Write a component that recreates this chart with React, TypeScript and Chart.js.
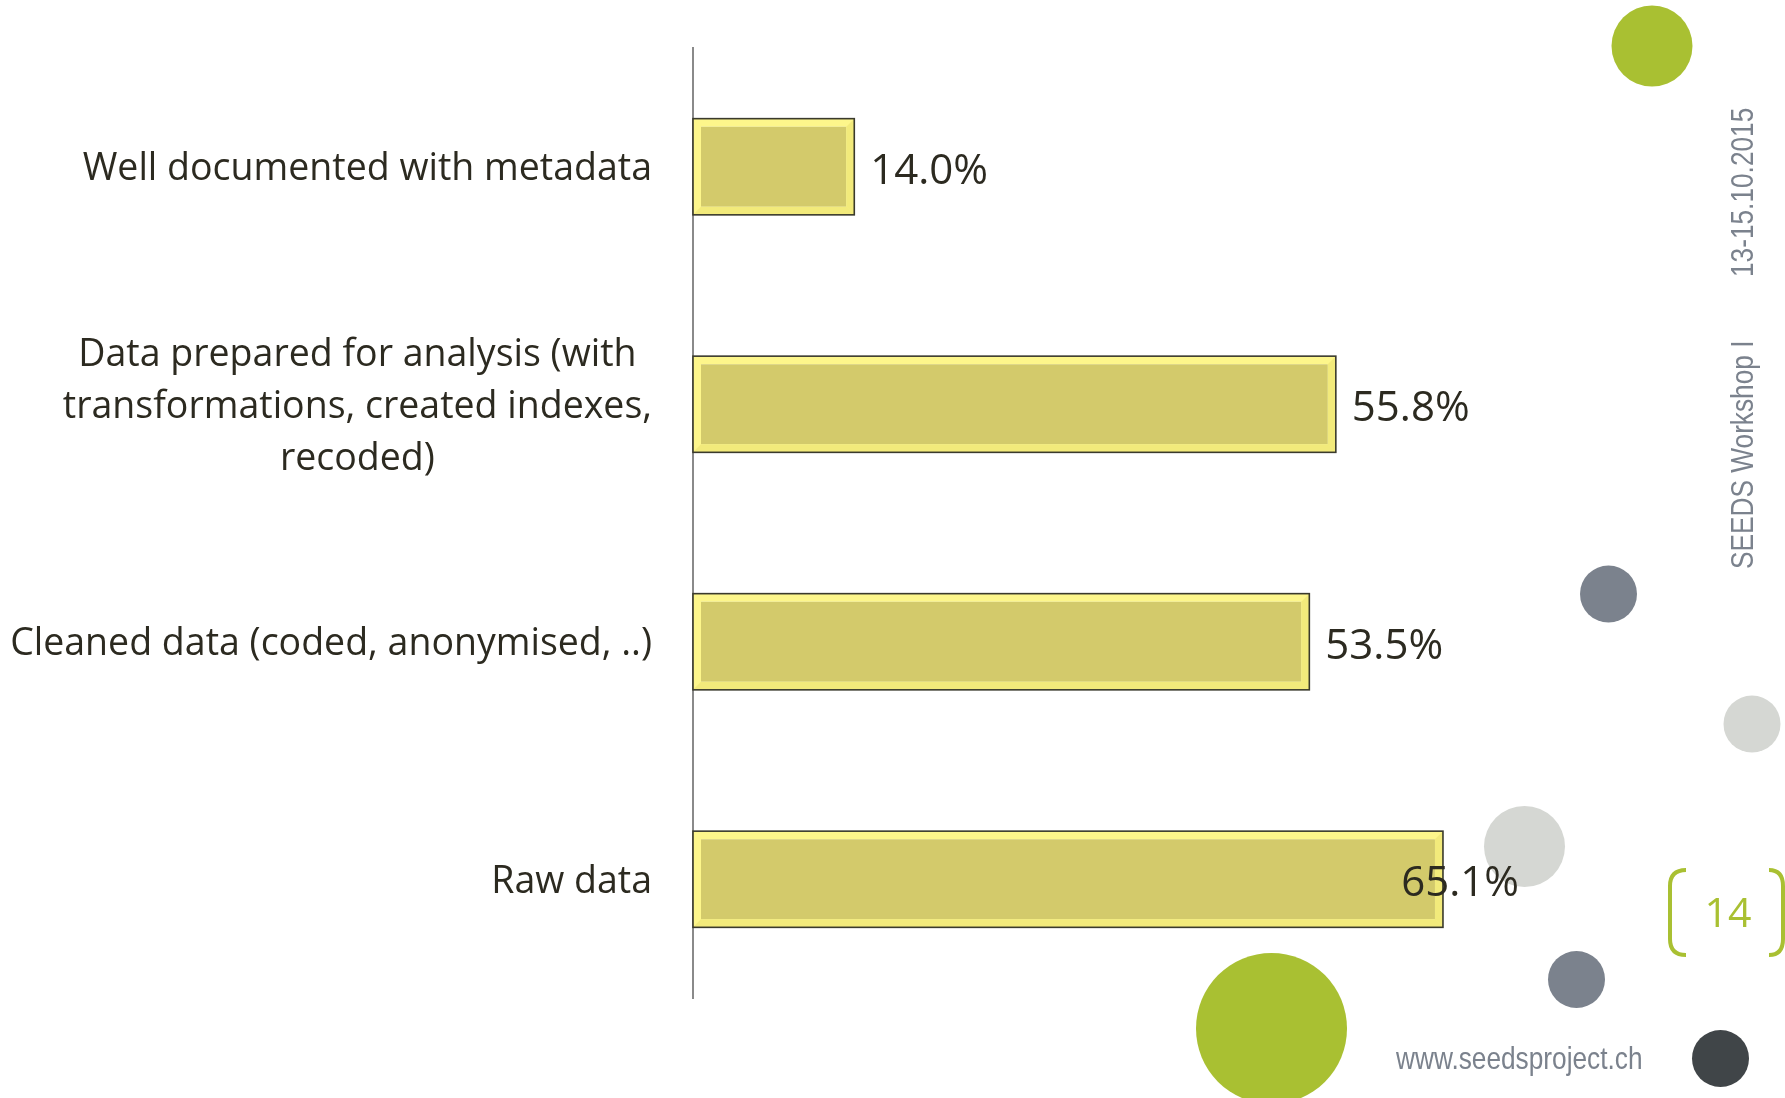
import React, { useEffect, useRef } from 'react';
import { Chart, registerables } from 'chart.js';

Chart.register(...registerables);

// ---------- data ----------
const categories: (string | string[])[] = [
  'Well documented with metadata',
  ['Data prepared for analysis (with', 'transformations, created indexes,', 'recoded)'],
  'Cleaned data (coded, anonymised, ..)',
  'Raw data',
];
const percentValues: number[] = [14.0, 55.8, 53.5, 65.1];
const axisMin = 0;
const axisMax = 71.7;

// ---------- slide texts ----------
const pageNumber = '14';
const footerUrl = 'www.seedsproject.ch';
const sideTextEvent = 'SEEDS Workshop I';
const sideTextDate = '13-15.10.2015';

// ---------- styles ----------
const W = 1785;
const H = 1098;
const TEXT = '#2c2a20';
const GREEN = '#a9c032';
const SLATE = '#7b828d';
const LIGHT = '#d5d7d3';
const DARK = '#404548';
const BAR_FILL = '#d3ca6b';
const BEVEL_LIGHT = '#fdf68b';
const BEVEL_DARK = '#f2ea7b';
const OUTLINE = '#3a3a2c';

const decoCircles = [
  { x: 1652, y: 46, r: 40.5, c: GREEN },
  { x: 1608.5, y: 594, r: 28.5, c: SLATE },
  { x: 1752, y: 724, r: 28.5, c: LIGHT },
  { x: 1524.5, y: 846.5, r: 40.5, c: LIGHT },
  { x: 1576.5, y: 979.5, r: 28.5, c: SLATE },
  { x: 1720.5, y: 1058.5, r: 28.5, c: DARK },
  { x: 1271.5, y: 1028.5, r: 75.5, c: GREEN },
];

const decorationPlugin = {
  id: 'slideDecoration',
  beforeDraw(chart: any) {
    const ctx: CanvasRenderingContext2D = chart.ctx;
    ctx.save();
    ctx.fillStyle = '#ffffff';
    ctx.fillRect(0, 0, chart.width, chart.height);
    decoCircles.forEach((c) => {
      ctx.beginPath();
      ctx.arc(c.x, c.y, c.r, 0, Math.PI * 2);
      ctx.fillStyle = c.c;
      ctx.fill();
    });
    // page number bracket
    ctx.strokeStyle = GREEN;
    ctx.lineWidth = 4;
    ctx.beginPath();
    ctx.moveTo(1686, 870);
    ctx.quadraticCurveTo(1670, 870, 1670, 886);
    ctx.lineTo(1670, 939);
    ctx.quadraticCurveTo(1670, 955, 1686, 955);
    ctx.stroke();
    ctx.beginPath();
    ctx.moveTo(1769, 870);
    ctx.quadraticCurveTo(1783, 870, 1783, 886);
    ctx.lineTo(1783, 939);
    ctx.quadraticCurveTo(1783, 955, 1769, 955);
    ctx.stroke();
    ctx.fillStyle = GREEN;
    ctx.font = '41px "Open Sans"';
    ctx.textAlign = 'center';
    ctx.textBaseline = 'middle';
    ctx.fillText(pageNumber, 1728, 915);
    // footer url
    ctx.fillStyle = SLATE;
    ctx.textAlign = 'left';
    ctx.textBaseline = 'alphabetic';
    ctx.save();
    ctx.translate(1396, 1069);
    ctx.scale(0.82, 1);
    ctx.font = '32px "Liberation Sans", Arial, sans-serif';
    ctx.fillText(footerUrl, 0, 0);
    ctx.restore();
    // vertical side texts
    ctx.save();
    ctx.translate(1753, 569);
    ctx.rotate(-Math.PI / 2);
    ctx.scale(0.82, 1);
    ctx.font = '32px "Liberation Sans", Arial, sans-serif';
    ctx.fillText(sideTextEvent, 0, 0);
    ctx.restore();
    ctx.save();
    ctx.translate(1753, 277);
    ctx.rotate(-Math.PI / 2);
    ctx.scale(0.82, 1);
    ctx.font = '32px "Liberation Sans", Arial, sans-serif';
    ctx.fillText(sideTextDate, 0, 0);
    ctx.restore();
    ctx.restore();
  },
};

const barDecorPlugin = {
  id: 'barDecor',
  afterDatasetsDraw(chart: any) {
    const ctx: CanvasRenderingContext2D = chart.ctx;
    const meta = chart.getDatasetMeta(0);
    const area = chart.chartArea;
    const bw = 8;
    ctx.save();
    meta.data.forEach((bar: any) => {
      const p = bar.getProps(['x', 'y', 'base', 'height'], true);
      const left = Math.min(p.base, p.x);
      const right = Math.max(p.base, p.x);
      const top = p.y - p.height / 2;
      const bottom = p.y + p.height / 2;
      // darker bevel on bottom and right
      ctx.fillStyle = BEVEL_DARK;
      ctx.beginPath();
      ctx.moveTo(left, bottom);
      ctx.lineTo(right, bottom);
      ctx.lineTo(right - bw, bottom - bw);
      ctx.lineTo(left + bw, bottom - bw);
      ctx.closePath();
      ctx.fill();
      ctx.beginPath();
      ctx.moveTo(right, top);
      ctx.lineTo(right, bottom);
      ctx.lineTo(right - bw, bottom - bw);
      ctx.lineTo(right - bw, top + bw);
      ctx.closePath();
      ctx.fill();
      // outline
      ctx.strokeStyle = OUTLINE;
      ctx.lineWidth = 1.6;
      ctx.strokeRect(left, top, right - left, bottom - top);
    });
    // value labels
    ctx.font = '42px "Open Sans"';
    ctx.fillStyle = TEXT;
    ctx.textBaseline = 'middle';
    ctx.textAlign = 'left';
    meta.data.forEach((bar: any, i: number) => {
      const p = bar.getProps(['x', 'y'], true);
      const txt = percentValues[i].toFixed(1) + '%';
      const w = ctx.measureText(txt).width;
      let x = p.x + 16;
      if (x + w > area.right) x = area.right - w;
      ctx.fillText(txt, x, p.y + 5);
    });
    ctx.restore();
  },
  afterDraw(chart: any) {
    const ctx: CanvasRenderingContext2D = chart.ctx;
    const yScale = chart.scales.y;
    const rightEdge = chart.chartArea.left - 41;
    ctx.save();
    ctx.font = '37.5px "Open Sans"';
    ctx.fillStyle = TEXT;
    ctx.textBaseline = 'middle';
    ctx.textAlign = 'center';
    (chart.data.labels as (string | string[])[]).forEach((lab, i) => {
      const lines = Array.isArray(lab) ? lab : [lab];
      const maxW = Math.max(...lines.map((l) => ctx.measureText(l).width));
      const cx = rightEdge - maxW / 2;
      const cy = yScale.getPixelForTick(i) + 3;
      const lh = 52;
      lines.forEach((l, j) => {
        ctx.fillText(l, cx, cy + (j - (lines.length - 1) / 2) * lh);
      });
    });
    ctx.restore();
  },
};

export default function App() {
  const canvasRef = useRef<HTMLCanvasElement | null>(null);

  useEffect(() => {
    if (!canvasRef.current) return;
    const chart = new Chart(canvasRef.current, {
      type: 'bar',
      data: {
        labels: categories as any,
        datasets: [
          {
            data: percentValues,
            backgroundColor: BAR_FILL,
            borderColor: BEVEL_LIGHT,
            borderWidth: 8,
            borderSkipped: false,
            categoryPercentage: 1,
            barPercentage: 0.405,
          },
        ],
      },
      options: {
        indexAxis: 'y',
        responsive: false,
        animation: false,
        devicePixelRatio: 1,
        layout: { padding: { left: 0, right: W - 1519, top: 48, bottom: H - 998 } },
        plugins: {
          legend: { display: false },
          tooltip: { enabled: false },
          title: { display: false },
        },
        scales: {
          x: {
            display: false,
            min: axisMin,
            max: axisMax,
          },
          y: {
            display: true,
            z: 1,
            grid: { display: false, drawTicks: false },
            ticks: { display: false },
            border: { display: true, color: '#8a8a8a', width: 2 },
            afterFit: (scale: any) => {
              scale.width = 693;
            },
          },
        },
      } as any,
      plugins: [decorationPlugin, barDecorPlugin],
    });
    return () => chart.destroy();
  }, []);

  return (
    <div style={{ position: 'absolute', left: 0, top: 0, width: W, height: H }}>
      <canvas ref={canvasRef} width={W} height={H} style={{ display: 'block' }} />
    </div>
  );
}
